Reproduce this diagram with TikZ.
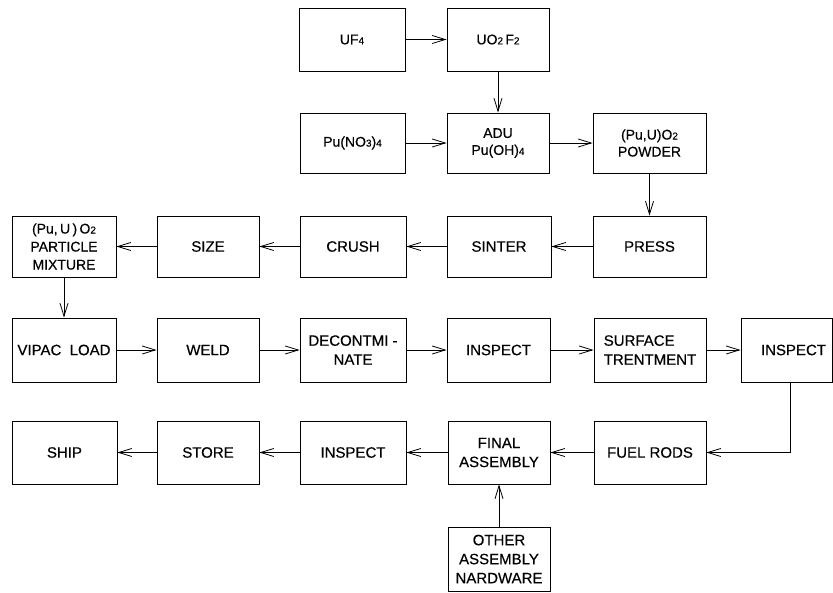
\documentclass[tikz,border=0pt]{standalone}
\usepackage{fontspec}
\setmainfont{Liberation Sans}[FakeBold=0.4]
\usetikzlibrary{arrows.meta}
% small digits set on the baseline, as in the chemical formulas
\newcommand{\sm}[1]{{\fontsize{10}{10}\selectfont #1}}
\begin{document}
\begin{tikzpicture}[x=1pt,y=-1pt,
  box/.style={draw, line width=0.8pt, inner sep=2pt, align=center,
              font=\fontsize{15}{19}\selectfont},
  smallbox/.style={box, font=\fontsize{14}{17}\selectfont},
  flow/.style={draw, line width=0.8pt,
               -{Straight Barb[length=13pt,width=8pt]}},
]
\useasboundingbox (0,0) rectangle (833,592);

% feed materials
\node[smallbox, minimum width=106, minimum height=63] (uf4)    at (352,39.5)  {UF\sm{4}};
\node[smallbox, minimum width=102, minimum height=63] (uo2f2)  at (498,39.5)  {UO\sm{2}\,F\sm{2}};
\node[smallbox, minimum width=105, minimum height=60] (puno3)  at (352.5,143) {Pu(NO\sm{3})\sm{4}};
\node[smallbox, minimum width=102, minimum height=60] (adu)    at (498,143)   {ADU\\Pu(OH)\sm{4}};
\node[smallbox, minimum width=113, minimum height=60] (powder) at (649.5,143) {(Pu,U)O\sm{2}\\POWDER};

% particle preparation
\node[box, minimum width=113, minimum height=61] (press)    at (649.5,246.5) {PRESS};
\node[box, minimum width=104, minimum height=61] (sinter)   at (499,246.5)   {SINTER};
\node[box, minimum width=106, minimum height=61] (crush)    at (353,246.5)   {CRUSH};
\node[box, minimum width=102, minimum height=61] (size)     at (208,246.5)   {SIZE};
\node[box, minimum width=104, minimum height=61, font=\fontsize{14}{18}\selectfont]
     (particle) at (64,246.5) {(Pu,\,U\,)\,O\sm{2}\\PARTICLE\\MIXTURE};

% rod fabrication
\node[box, minimum width=104, minimum height=64] (vipac)   at (64,350)    {VIPAC\ \ LOAD};
\node[box, minimum width=102, minimum height=64] (weld)    at (208,350)   {WELD};
\node[box, minimum width=106, minimum height=64] (decon)   at (353,350)   {DECONTMI -\\NATE};
\node[box, minimum width=103, minimum height=64] (insp1)   at (498.5,350) {INSPECT};
\node[box, minimum width=112, minimum height=64, align=left] (surface) at (650,350) {SURFACE\\TRENTMENT};
\node[box, minimum width=91,  minimum height=64] (insp2)   at (786.5,350) {\hspace*{14pt}INSPECT};

% assembly and shipping
\node[box, minimum width=112, minimum height=63] (fuel)  at (650,452.5)  {FUEL\ RODS};
\node[box, minimum width=102, minimum height=63] (final) at (499,452.5)  {FINAL\\ASSEMBLY};
\node[box, minimum width=106, minimum height=63] (insp3) at (353,452.5)  {INSPECT};
\node[box, minimum width=102, minimum height=63] (store) at (208,452.5)  {STORE};
\node[box, minimum width=105, minimum height=63] (ship)  at (64.5,452.5) {SHIP};
\node[box, minimum width=102, minimum height=64] (other) at (499,559)    {OTHER\\ASSEMBLY\\NARDWARE};

% flow lines
\draw[flow] (uf4) -- (uo2f2);
\draw[flow] (uo2f2) -- (adu);
\draw[flow] (puno3) -- (adu);
\draw[flow] (adu) -- (powder);
\draw[flow] (powder) -- (press);
\draw[flow] (press) -- (sinter);
\draw[flow] (sinter) -- (crush);
\draw[flow] (crush) -- (size);
\draw[flow] (size) -- (particle);
\draw[flow] (particle) -- (vipac);
\draw[flow] (vipac) -- (weld);
\draw[flow] (weld) -- (decon);
\draw[flow] (decon) -- (insp1);
\draw[flow] (insp1) -- (surface);
\draw[flow] (surface) -- (insp2);
\coordinate (bend) at (790,452.5);
\draw[flow] (insp2.south -| bend) -- (bend) -- (fuel.east);
\draw[flow] (fuel) -- (final);
\draw[flow] (final) -- (insp3);
\draw[flow] (insp3) -- (store);
\draw[flow] (store) -- (ship);
\draw[flow] (other) -- (final);
\end{tikzpicture}
\end{document}
